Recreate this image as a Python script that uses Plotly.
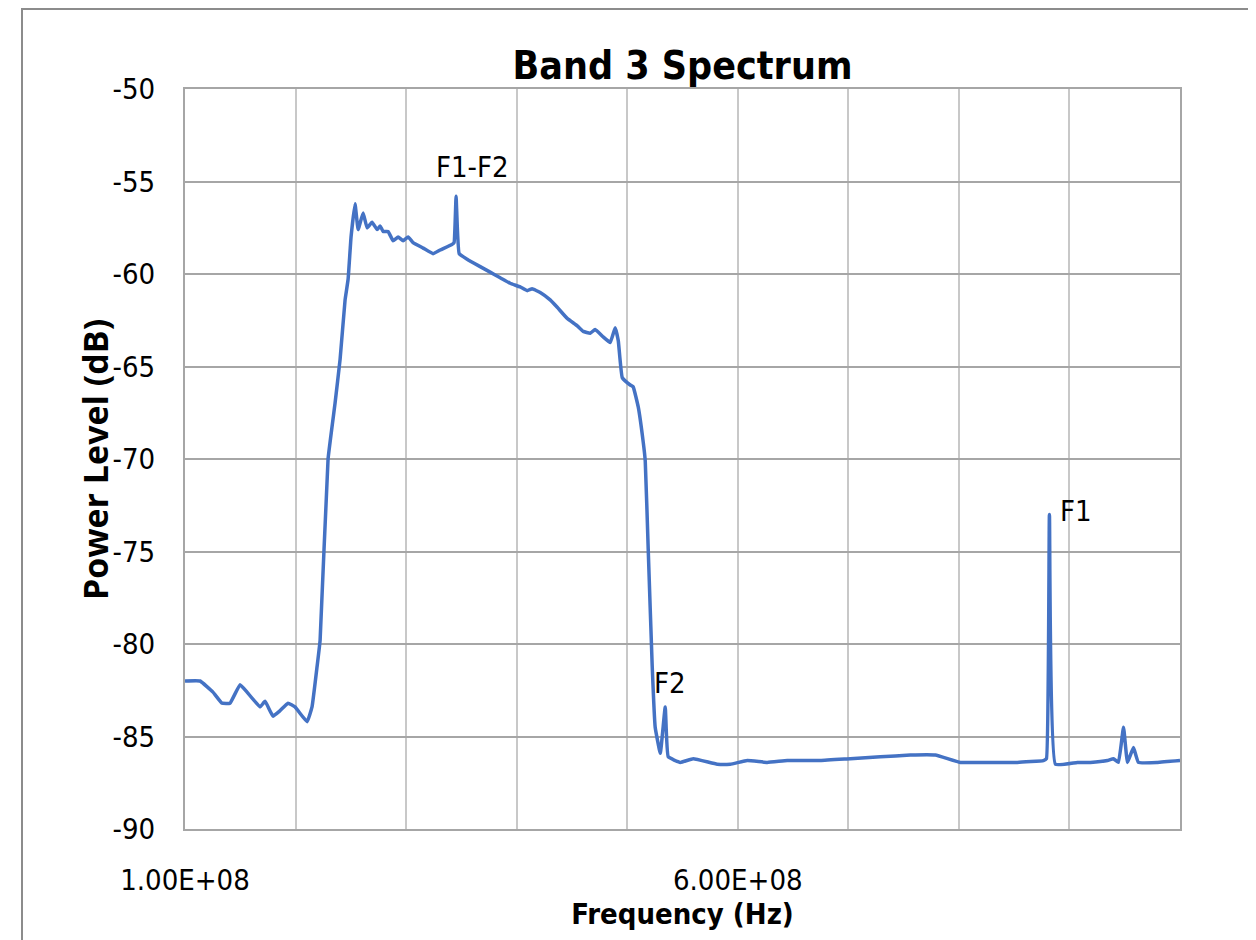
import plotly.graph_objects as go

# Frequency (Hz) and power level (dB)
freq_hz = [
    1.000e8, 1.136e8, 1.253e8, 1.335e8, 1.407e8, 1.498e8, 1.561e8, 1.679e8, 1.724e8,
    1.796e8, 1.860e8, 1.932e8, 1.995e8, 2.104e8, 2.149e8, 2.195e8, 2.222e8, 2.294e8,
    2.357e8, 2.403e8, 2.448e8, 2.475e8, 2.502e8, 2.538e8, 2.566e8, 2.611e8, 2.647e8,
    2.692e8, 2.738e8, 2.765e8, 2.792e8, 2.837e8, 2.882e8, 2.928e8, 2.973e8, 3.018e8,
    3.063e8, 3.154e8, 3.244e8, 3.308e8, 3.416e8, 3.434e8, 3.452e8, 3.480e8, 3.552e8,
    3.670e8, 3.760e8, 3.851e8, 3.941e8, 4.032e8, 4.095e8, 4.140e8, 4.213e8, 4.303e8,
    4.367e8, 4.457e8, 4.548e8, 4.602e8, 4.665e8, 4.710e8, 4.783e8, 4.846e8, 4.891e8,
    4.919e8, 4.955e8, 5.027e8, 5.054e8, 5.100e8, 5.145e8, 5.163e8, 5.190e8, 5.226e8,
    5.253e8, 5.299e8, 5.344e8, 5.371e8, 5.480e8, 5.597e8, 5.814e8, 5.932e8, 6.086e8,
    6.267e8, 6.448e8, 6.747e8, 7.018e8, 7.290e8, 7.561e8, 7.787e8, 8.014e8, 8.285e8,
    8.529e8, 8.765e8, 8.792e8, 8.819e8, 8.873e8, 9.072e8, 9.190e8, 9.344e8, 9.398e8,
    9.443e8, 9.489e8, 9.525e8, 9.579e8, 9.624e8, 9.796e8, 1.000e9,
]
power_db = [
    -82.0, -82.0, -82.6, -83.2, -83.2, -82.2, -82.6, -83.4, -83.1,
    -83.9, -83.6, -83.2, -83.4, -84.2, -83.4, -81.2, -79.8, -70.0,
    -67.0, -64.6, -61.4, -60.3, -58.0, -56.2, -57.6, -56.7, -57.5,
    -57.2, -57.6, -57.4, -57.7, -57.7, -58.2, -58.0, -58.2, -58.0,
    -58.3, -58.6, -58.9, -58.7, -58.4, -58.3, -55.8, -58.9, -59.2,
    -59.6, -59.9, -60.2, -60.5, -60.7, -60.9, -60.8, -61.0, -61.4,
    -61.8, -62.4, -62.8, -63.1, -63.2, -63.0, -63.4, -63.7, -62.9,
    -63.6, -65.6, -66.0, -66.1, -67.2, -69.1, -70.1, -74.9, -81.2,
    -84.5, -85.9, -83.4, -86.1, -86.4, -86.2, -86.5, -86.5, -86.3,
    -86.4, -86.3, -86.3, -86.2, -86.1, -86.0, -86.0, -86.4, -86.4,
    -86.4, -86.3, -86.2, -73.0, -86.5, -86.4, -86.4, -86.3, -86.2,
    -86.4, -84.5, -86.4, -85.6, -86.4, -86.4, -86.3,
]

x_tick_vals = [1e8, 2e8, 3e8, 4e8, 5e8, 6e8, 7e8, 8e8, 9e8, 1e9]
x_tick_text = ["1.00E+08", "", "", "", "", "6.00E+08", "", "", "", ""]
y_tick_vals = [-50, -55, -60, -65, -70, -75, -80, -85, -90]
y_tick_text = ["-50", "-55", "-60", "-65", "-70", "-75", "-80", "-85", "-90"]

peak_labels = ["F1-F2", "F2", "F1"]
peak_freq = [3.597e8, 5.389e8, 9.063e8]
peak_db = [-54.2, -82.1, -72.8]

NARROW = "Liberation Sans Narrow, DejaVu Sans Condensed, Liberation Sans, Arial, sans-serif"

# plot area in figure pixels
L, R, T, B = 177, 1172, 81, 821
W, H = 1256, 940

fig = go.Figure()
fig.add_trace(go.Scatter(
    x=freq_hz, y=power_db, mode="lines",
    line=dict(color="#4472C4", width=3.5, shape="spline", smoothing=0.3),
    showlegend=False, hoverinfo="skip",
))

for txt, fx, fy in zip(peak_labels, peak_freq, peak_db):
    fig.add_annotation(x=fx, y=fy, text=txt, showarrow=False,
                       font=dict(family=NARROW, size=29, color="black"))

# y-axis title placed as rotated annotation
fig.add_annotation(xref="paper", yref="paper",
                   x=(87 - L) / (R - L), y=(B - 452) / (B - T),
                   text="<b>Power Level (dB)</b>", textangle=-90, showarrow=False,
                   xanchor="center", yanchor="middle",
                   font=dict(family="Open Sans, sans-serif", size=34, color="black"))

fig.update_layout(
    width=W, height=H,
    margin=dict(l=L, r=W - R, t=T, b=H - B),
    paper_bgcolor="white", plot_bgcolor="white",
    title=dict(text="<b>Band 3 Spectrum</b>", x=0.5, xanchor="center",
               xref="paper", y=1 - 57 / H, yanchor="middle",
               font=dict(family=NARROW, size=39, color="black")),
    xaxis=dict(
        range=[1e8, 1e9], tickvals=x_tick_vals, ticktext=x_tick_text,
        showgrid=True, gridcolor="#c8c8c8", gridwidth=2,
        showline=True, linecolor="#a6a6a6", linewidth=2, mirror=True,
        ticks="", ticklabelstandoff=24,
        tickfont=dict(family=NARROW, size=29, color="black"),
        title=dict(text="<b>Frequency (Hz)</b>", standoff=2,
                   font=dict(family=NARROW, size=29, color="black")),
        zeroline=False,
    ),
    yaxis=dict(
        range=[-90, -50], tickvals=y_tick_vals, ticktext=y_tick_text,
        showgrid=True, gridcolor="#a6a6a6", gridwidth=2,
        showline=True, linecolor="#a6a6a6", linewidth=2, mirror=True,
        ticks="", ticklabelstandoff=22,
        tickfont=dict(family=NARROW, size=29, color="black"),
        zeroline=False,
    ),
)

# outer chart frame
fig.add_shape(type="rect", xref="paper", yref="paper",
              x0=(14 - L) / (R - L), x1=(1246 - L) / (R - L),
              y0=(B - 980) / (B - T), y1=(B - 1) / (B - T),
              line=dict(color="#8c8c8c", width=2), fillcolor="rgba(0,0,0,0)",
              layer="below")

fig.write_html("out.html")
